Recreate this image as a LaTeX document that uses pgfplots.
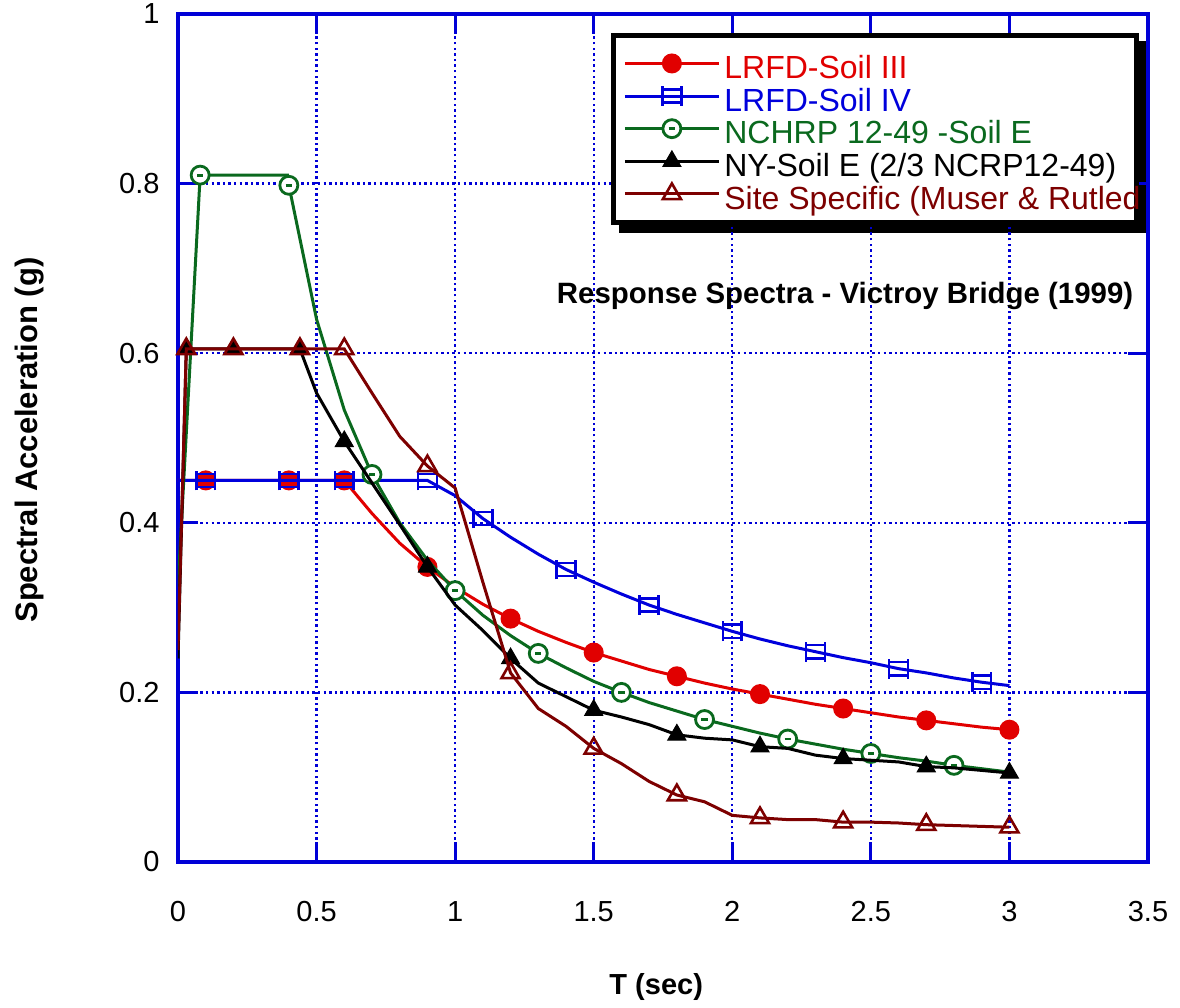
\documentclass[border=0pt]{standalone}
\usepackage{fontspec}
\setmainfont{Liberation Sans}
\usepackage{pgfplots}
\pgfplotsset{compat=1.18}
\usetikzlibrary{backgrounds}
\definecolor{cRed}{RGB}{225,0,0}
\definecolor{cBlue}{RGB}{0,0,220}
\definecolor{cGreen}{RGB}{10,105,30}
\definecolor{cBrown}{RGB}{125,0,0}
\definecolor{axBlue}{RGB}{0,0,215}
\pgfdeclareplotmark{sqbar}{%
  \pgfpathrectangle{\pgfqpoint{-\pgfplotmarksize}{-0.7\pgfplotmarksize}}{\pgfqpoint{2\pgfplotmarksize}{1.4\pgfplotmarksize}}%
  \pgfpathmoveto{\pgfqpoint{-\pgfplotmarksize}{-1.05\pgfplotmarksize}}\pgfpathlineto{\pgfqpoint{-\pgfplotmarksize}{1.05\pgfplotmarksize}}%
  \pgfpathmoveto{\pgfqpoint{\pgfplotmarksize}{-1.05\pgfplotmarksize}}\pgfpathlineto{\pgfqpoint{\pgfplotmarksize}{1.05\pgfplotmarksize}}%
  \pgfusepathqstroke}
\pgfdeclareplotmark{cdash}{%
  \pgfpathcircle{\pgfpointorigin}{\pgfplotmarksize}%
  \pgfusepathqfillstroke
  \pgfpathmoveto{\pgfqpoint{-0.35\pgfplotmarksize}{0pt}}\pgfpathlineto{\pgfqpoint{0.35\pgfplotmarksize}{0pt}}%
  \pgfusepathqstroke}
\begin{document}
\begin{tikzpicture}
\begin{axis}[
  scale only axis, width=485pt, height=424pt,
  xmin=0, xmax=3.5, ymin=0, ymax=1,
  xtick={0,0.5,1,1.5,2,2.5,3,3.5},
  ytick={0,0.2,0.4,0.6,0.8,1},
  grid=major,
  major grid style={axBlue, line width=1.2pt, dash pattern=on 1.2pt off 1.6pt},
  axis line style={axBlue, line width=1.8pt},
  tick style={axBlue, line width=1.5pt},
  tick align=inside, major tick length=10pt,
  ticklabel style={font=\fontsize{14.5}{17}\selectfont, /pgf/number format/assume math mode=true},
  xticklabel style={yshift=-16pt},
  yticklabel style={xshift=-5.7pt},
  xlabel={T (sec)},
  ylabel={Spectral Acceleration (g)},
  x label style={at={(axis description cs:0.493,-0.1474)}, anchor=center, font=\bfseries\fontsize{14.5}{17}\selectfont},
  y label style={at={(axis description cs:-0.1526,0.4976)}, anchor=center, rotate=0, font=\bfseries\fontsize{15.5}{18}\selectfont},
  clip mode=individual,
  legend cell align=left,
  legend style={name=leg, at={(axis cs:1.562,0.978)}, anchor=north west, draw=black, line width=2.5pt, fill=white,
    font=\fontsize{16}{16}\selectfont, inner xsep=5pt, inner ysep=6pt,
    nodes={text height=15.8pt, text depth=0.5pt, inner ysep=0pt}},
  legend image code/.code={\draw[mark indices={2}] plot coordinates {(0pt,0pt) (23.5pt,0pt) (47pt,0pt)};},
]
\addplot[cRed, line width=1.5pt, mark=*, mark size=4.5pt, mark options={fill=cRed, line width=1pt},
  mark indices={2,5,7,10,13,16,19,22,25,28,31}] coordinates {
(0,0.45)(0.1,0.45)(0.2,0.45)(0.3,0.45)(0.4,0.45)(0.5,0.45)(0.6,0.45)(0.7,0.411)(0.8,0.376)(0.9,0.348)
(1.0,0.324)(1.1,0.304)(1.2,0.287)(1.3,0.272)(1.4,0.259)(1.5,0.247)(1.6,0.237)(1.7,0.227)(1.8,0.219)(1.9,0.211)
(2.0,0.204)(2.1,0.198)(2.2,0.192)(2.3,0.186)(2.4,0.181)(2.5,0.176)(2.6,0.171)(2.7,0.167)(2.8,0.163)(2.9,0.159)(3.0,0.156)};
\addlegendentry{\textcolor{cRed}{LRFD-Soil III}}
\addplot[cBlue, line width=1.5pt, mark=sqbar, mark size=4.7pt, mark options={line width=1.3pt},
  mark indices={2,5,7,10,12,15,18,21,24,27,30}] coordinates {
(0,0.45)(0.1,0.45)(0.2,0.45)(0.3,0.45)(0.4,0.45)(0.5,0.45)(0.6,0.45)(0.7,0.45)(0.8,0.45)(0.9,0.45)
(1.0,0.432)(1.1,0.405)(1.2,0.383)(1.3,0.363)(1.4,0.345)(1.5,0.330)(1.6,0.316)(1.7,0.303)(1.8,0.292)(1.9,0.282)
(2.0,0.272)(2.1,0.263)(2.2,0.255)(2.3,0.248)(2.4,0.241)(2.5,0.235)(2.6,0.228)(2.7,0.223)(2.8,0.217)(2.9,0.212)(3.0,0.208)};
\addlegendentry{\textcolor{cBlue}{LRFD-Soil IV}}
\addplot[cGreen, line width=1.5pt, mark=cdash, mark size=4.5pt, mark options={fill=white, line width=1.4pt},
  mark indices={2,5,8,11,14,17,20,23,26,29}] coordinates {
(0,0.324)(0.08,0.81)(0.2,0.81)(0.395,0.81)(0.4,0.798)(0.5,0.64)(0.6,0.533)(0.7,0.457)(0.8,0.40)(0.9,0.356)
(1.0,0.32)(1.1,0.291)(1.2,0.267)(1.3,0.246)(1.4,0.229)(1.5,0.213)(1.6,0.2)(1.7,0.188)(1.8,0.178)(1.9,0.168)
(2.0,0.16)(2.1,0.152)(2.2,0.145)(2.3,0.139)(2.4,0.133)(2.5,0.128)(2.6,0.123)(2.7,0.119)(2.8,0.114)(2.9,0.110)(3.0,0.106)};
\addlegendentry{\textcolor{cGreen}{NCHRP 12-49 -Soil E}}
\addplot[black, line width=1.5pt, mark=triangle*, mark size=5.2pt, mark options={fill=black, line width=0.5pt},
  mark indices={2,4,6,8,11,14,17,20,23,26,29,32}] coordinates {
(0,0.24)(0.03,0.605)(0.1,0.605)(0.2,0.605)(0.3,0.605)(0.44,0.605)(0.5,0.553)(0.6,0.496)(0.7,0.447)(0.8,0.398)
(0.9,0.348)(1.0,0.303)(1.1,0.273)(1.2,0.24)(1.3,0.211)(1.4,0.195)(1.5,0.179)(1.6,0.171)(1.7,0.162)(1.8,0.15)
(1.9,0.146)(2.0,0.144)(2.1,0.136)(2.2,0.134)(2.3,0.126)(2.4,0.122)(2.5,0.12)(2.6,0.118)(2.7,0.1125)(2.8,0.111)(2.9,0.108)(3.0,0.105)};
\addlegendentry{\textcolor{black}{NY-Soil E (2/3 NCRP12-49)}}
\addplot[cBrown, line width=1.5pt, mark=triangle, mark size=5.2pt, mark options={line width=1.3pt},
  mark indices={2,4,6,7,10,13,16,19,22,25,28,31}] coordinates {
(0,0.25)(0.03,0.605)(0.1,0.605)(0.2,0.605)(0.3,0.605)(0.44,0.605)(0.6,0.605)(0.7,0.553)(0.8,0.502)(0.9,0.467)
(1.0,0.441)(1.1,0.33)(1.2,0.223)(1.3,0.181)(1.4,0.16)(1.5,0.134)(1.6,0.116)(1.7,0.095)(1.8,0.079)(1.9,0.071)
(2.0,0.055)(2.1,0.052)(2.2,0.05)(2.3,0.05)(2.4,0.047)(2.5,0.047)(2.6,0.046)(2.7,0.044)(2.8,0.043)(2.9,0.042)(3.0,0.041)};
\addlegendentry{\makebox[199pt][l]{\textcolor{cBrown}{Site Specific (Muser \& Rutled}}}
\node[font=\bfseries\fontsize{14.7}{17}\selectfont] at (axis cs:2.407,0.667) {Response Spectra - Victroy Bridge (1999)};
\end{axis}
\begin{scope}[on background layer]
\fill[black] ([xshift=4pt,yshift=-4pt]leg.south west) rectangle ([xshift=4pt,yshift=-4pt]leg.north east);
\end{scope}
\pgfresetboundingbox
\path[use as bounding box] (current axis.south west) ++(-89pt,-73pt) rectangle ++(590pt,504pt);
\end{tikzpicture}
\end{document}
